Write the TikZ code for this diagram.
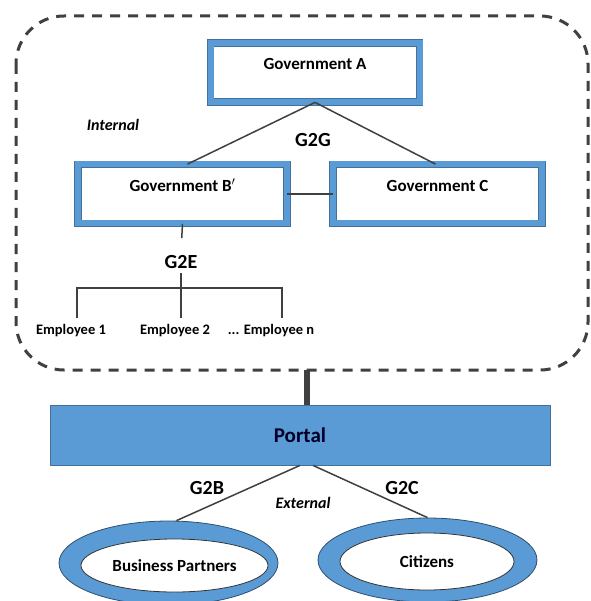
\documentclass[tikz,border=0pt]{standalone}
\usepackage{fontspec}
\setmainfont{Carlito}
\usepackage{tikz}
\usetikzlibrary{shapes.geometric,calc}
\definecolor{offblue}{HTML}{5B9BD5}
\definecolor{edgeblue}{HTML}{41719C}
\definecolor{linegray}{HTML}{404040}
\newcommand{\fsz}[1]{\fontsize{#1}{1.2\dimexpr#1pt\relax}\selectfont\bfseries}

\begin{document}
\begin{tikzpicture}[x=1pt,y=-1pt,
  govbox/.style={draw=edgeblue,line width=0.8pt,double=offblue,double distance=6pt,
    fill=white,minimum width=209pt,minimum height=59pt,text height=10pt,text depth=15pt,
    font=\fsz{17}},
  link/.style={linegray,line width=1.5pt},
  tag/.style={font=\fsz{20}},
  side/.style={font=\fsz{16}\itshape},
  emp/.style={font=\fsz{14.5}},
  ring/.style={ellipse,draw=edgeblue!70!black,fill=offblue,line width=0.8pt,
    minimum width=219pt,minimum height=84pt},
  hole/.style={ellipse,draw=black!80,fill=white,line width=0.8pt,font=\fsz{17}}]
  \useasboundingbox (0,0) rectangle (590,601);

  % internal part
  \draw[linegray,line width=3pt,dash pattern=on 10pt off 8pt,rounded corners=48pt]
    (16,16) rectangle (588,370);
  \node[side] (internal) at (113,125) {Internal};

  \node[govbox] (govA) at (315,72.5) {Government A};
  \node[govbox] (govB) at (182.5,194) {Government B$'$};
  \node[govbox] (govC) at (437.5,194) {Government C};
  \draw[link] (govA.south) -- ([xshift=5pt]govB.north);
  \draw[link] (govA.south) -- ([xshift=-2pt]govC.north);
  \draw[link] (govB.east) -- (govC.west);
  \node[tag] (g2g) at (313,140) {G2G};

  \node[tag,inner sep=4pt] (g2e) at (181,262) {G2E};
  \draw[link,shorten >=13pt] (govB.south) -- (g2e.north);
  \node[emp] (emp1) at (71,331) {Employee 1};
  \node[emp] (emp2) at (175,331) {Employee 2};
  \node[emp] (empn) at (271,331) {... Employee n};
  \coordinate (fork) at (181,288);
  \coordinate (leg1) at (77,318);
  \coordinate (leg2) at (181,318);
  \coordinate (legn) at (282,318);
  \draw[link] (g2e.south) -- (fork);
  \draw[link] (leg1) |- (fork) -| (legn);
  \draw[link] (fork) -- (leg2);

  % portal
  \coordinate (tap) at (307,370);
  \node[draw=edgeblue,fill=offblue,line width=0.8pt,minimum width=500pt,minimum height=60pt,
    font=\fsz{21},text=black!85!blue] (portal) at (300,435) {Portal};
  \draw[linegray,line width=6pt] (tap) -- (tap |- portal.north);

  % external part
  \node[ring] (bp) at (168.5,563) {};
  \node[hole,minimum width=187pt,minimum height=53pt] (bpin) at (174.5,565.5) {Business Partners};
  \node[ring] (cit) at (427.5,560) {};
  \node[hole,minimum width=174pt,minimum height=57pt] (citin) at (427,561.5) {Citizens};
  \draw[link] (portal.south) -- ([xshift=8pt]bp.north);
  \draw[link] ([xshift=13pt]portal.south) -- (cit.north);
  \node[tag] (g2b) at (207,488) {G2B};
  \node[tag] (g2c) at (402,488) {G2C};
  \node[side] (external) at (303,503) {External};
\end{tikzpicture}
\end{document}
